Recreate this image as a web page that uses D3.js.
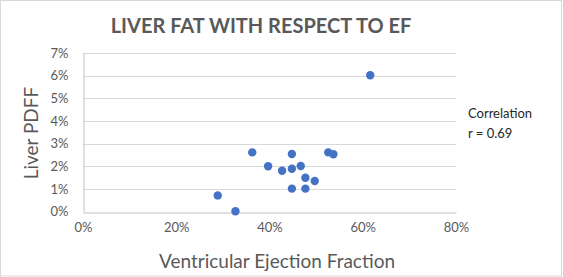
<!DOCTYPE html>
<html>
<head>
<meta charset="utf-8">
<script src="https://cdn.jsdelivr.net/npm/d3@7"></script>
<style>
  body { margin: 0; background: #fff; }
  text { font-family: Lato, "Open Sans", sans-serif; }
</style>
</head>
<body>
<div id="chart"></div>
<script>
// ejection fraction (%) and liver PDFF (%) per patient
const ejectionFraction = [28.9, 32.7, 36.3, 39.7, 42.7, 44.8, 44.8, 46.7, 47.7, 49.7, 44.8, 47.7, 52.6, 53.7, 61.6];
const liverPdff = [0.71, 0.01, 2.61, 2.0, 1.80, 1.89, 2.54, 2.01, 1.49, 1.35, 1.01, 1.01, 2.61, 2.53, 6.02];
const xTicks = [0, 20, 40, 60, 80];
const yTicks = [0, 1, 2, 3, 4, 5, 6, 7];
const title = "LIVER FAT WITH RESPECT TO EF";
const annotation = ["Correlation", "r = 0.69"];

const width = 563, height = 277;
const margin = { top: 53, right: 107, bottom: 65.5, left: 83 };

const svg = d3.select("#chart").append("svg")
  .attr("width", width)
  .attr("height", height);

svg.append("rect")
  .attr("x", 0.5).attr("y", 0.5)
  .attr("width", 561).attr("height", 275.5)
  .attr("fill", "#fff")
  .attr("stroke", "#d9d9d9");

const x = d3.scaleLinear().domain([0, 80]).range([margin.left, width - margin.right]);
const y = d3.scaleLinear().domain([0, 7]).range([height - margin.bottom, margin.top]);

// gridlines
svg.append("g")
  .selectAll("line")
  .data(yTicks.filter(d => d > 0))
  .join("line")
  .attr("x1", x(0)).attr("x2", x(80))
  .attr("y1", d => Math.round(y(d)) + 0.5)
  .attr("y2", d => Math.round(y(d)) + 0.5)
  .attr("stroke", "#d9d9d9");

// axes
const xAxis = svg.append("g")
  .attr("transform", `translate(0,${Math.round(y(0)) + 0.5})`)
  .call(d3.axisBottom(x).tickValues(xTicks).tickSize(0).tickPadding(10).tickFormat(d => d + "%"));
const yAxis = svg.append("g")
  .attr("transform", `translate(${Math.round(x(0)) + 0.5},0)`)
  .call(d3.axisLeft(y).tickValues(yTicks).tickSize(0).tickPadding(15).tickFormat(d => d + "%"));

[xAxis, yAxis].forEach(g => {
  g.select(".domain").attr("stroke", "#bfbfbf");
  g.selectAll("text")
    .attr("fill", "#595959")
    .style("font-size", "13px")
    .style("font-family", "Lato, sans-serif");
});

// points
svg.append("g")
  .selectAll("circle")
  .data(ejectionFraction.map((d, i) => [d, liverPdff[i]]))
  .join("circle")
  .attr("cx", d => x(d[0]))
  .attr("cy", d => y(d[1]))
  .attr("r", 4.2)
  .attr("fill", "#4472c4");

// title
svg.append("text")
  .attr("x", 261).attr("y", 33)
  .attr("text-anchor", "middle")
  .attr("fill", "#595959")
  .style("font-size", "20px")
  .style("font-weight", "bold")
  .text(title);

// axis titles
svg.append("text")
  .attr("x", 277).attr("y", 268)
  .attr("text-anchor", "middle")
  .attr("fill", "#595959")
  .style("font-size", "19px")
  .text("Ventricular Ejection Fraction");

svg.append("text")
  .attr("transform", "translate(38,133) rotate(-90)")
  .attr("text-anchor", "middle")
  .attr("fill", "#595959")
  .style("font-size", "19px")
  .text("Liver PDFF");

// correlation note
svg.append("g")
  .selectAll("text")
  .data(annotation)
  .join("text")
  .attr("x", 468)
  .attr("y", (d, i) => 118 + i * 20)
  .attr("fill", "#262626")
  .style("font-size", "13px")
  .text(d => d);
</script>
</body>
</html>
